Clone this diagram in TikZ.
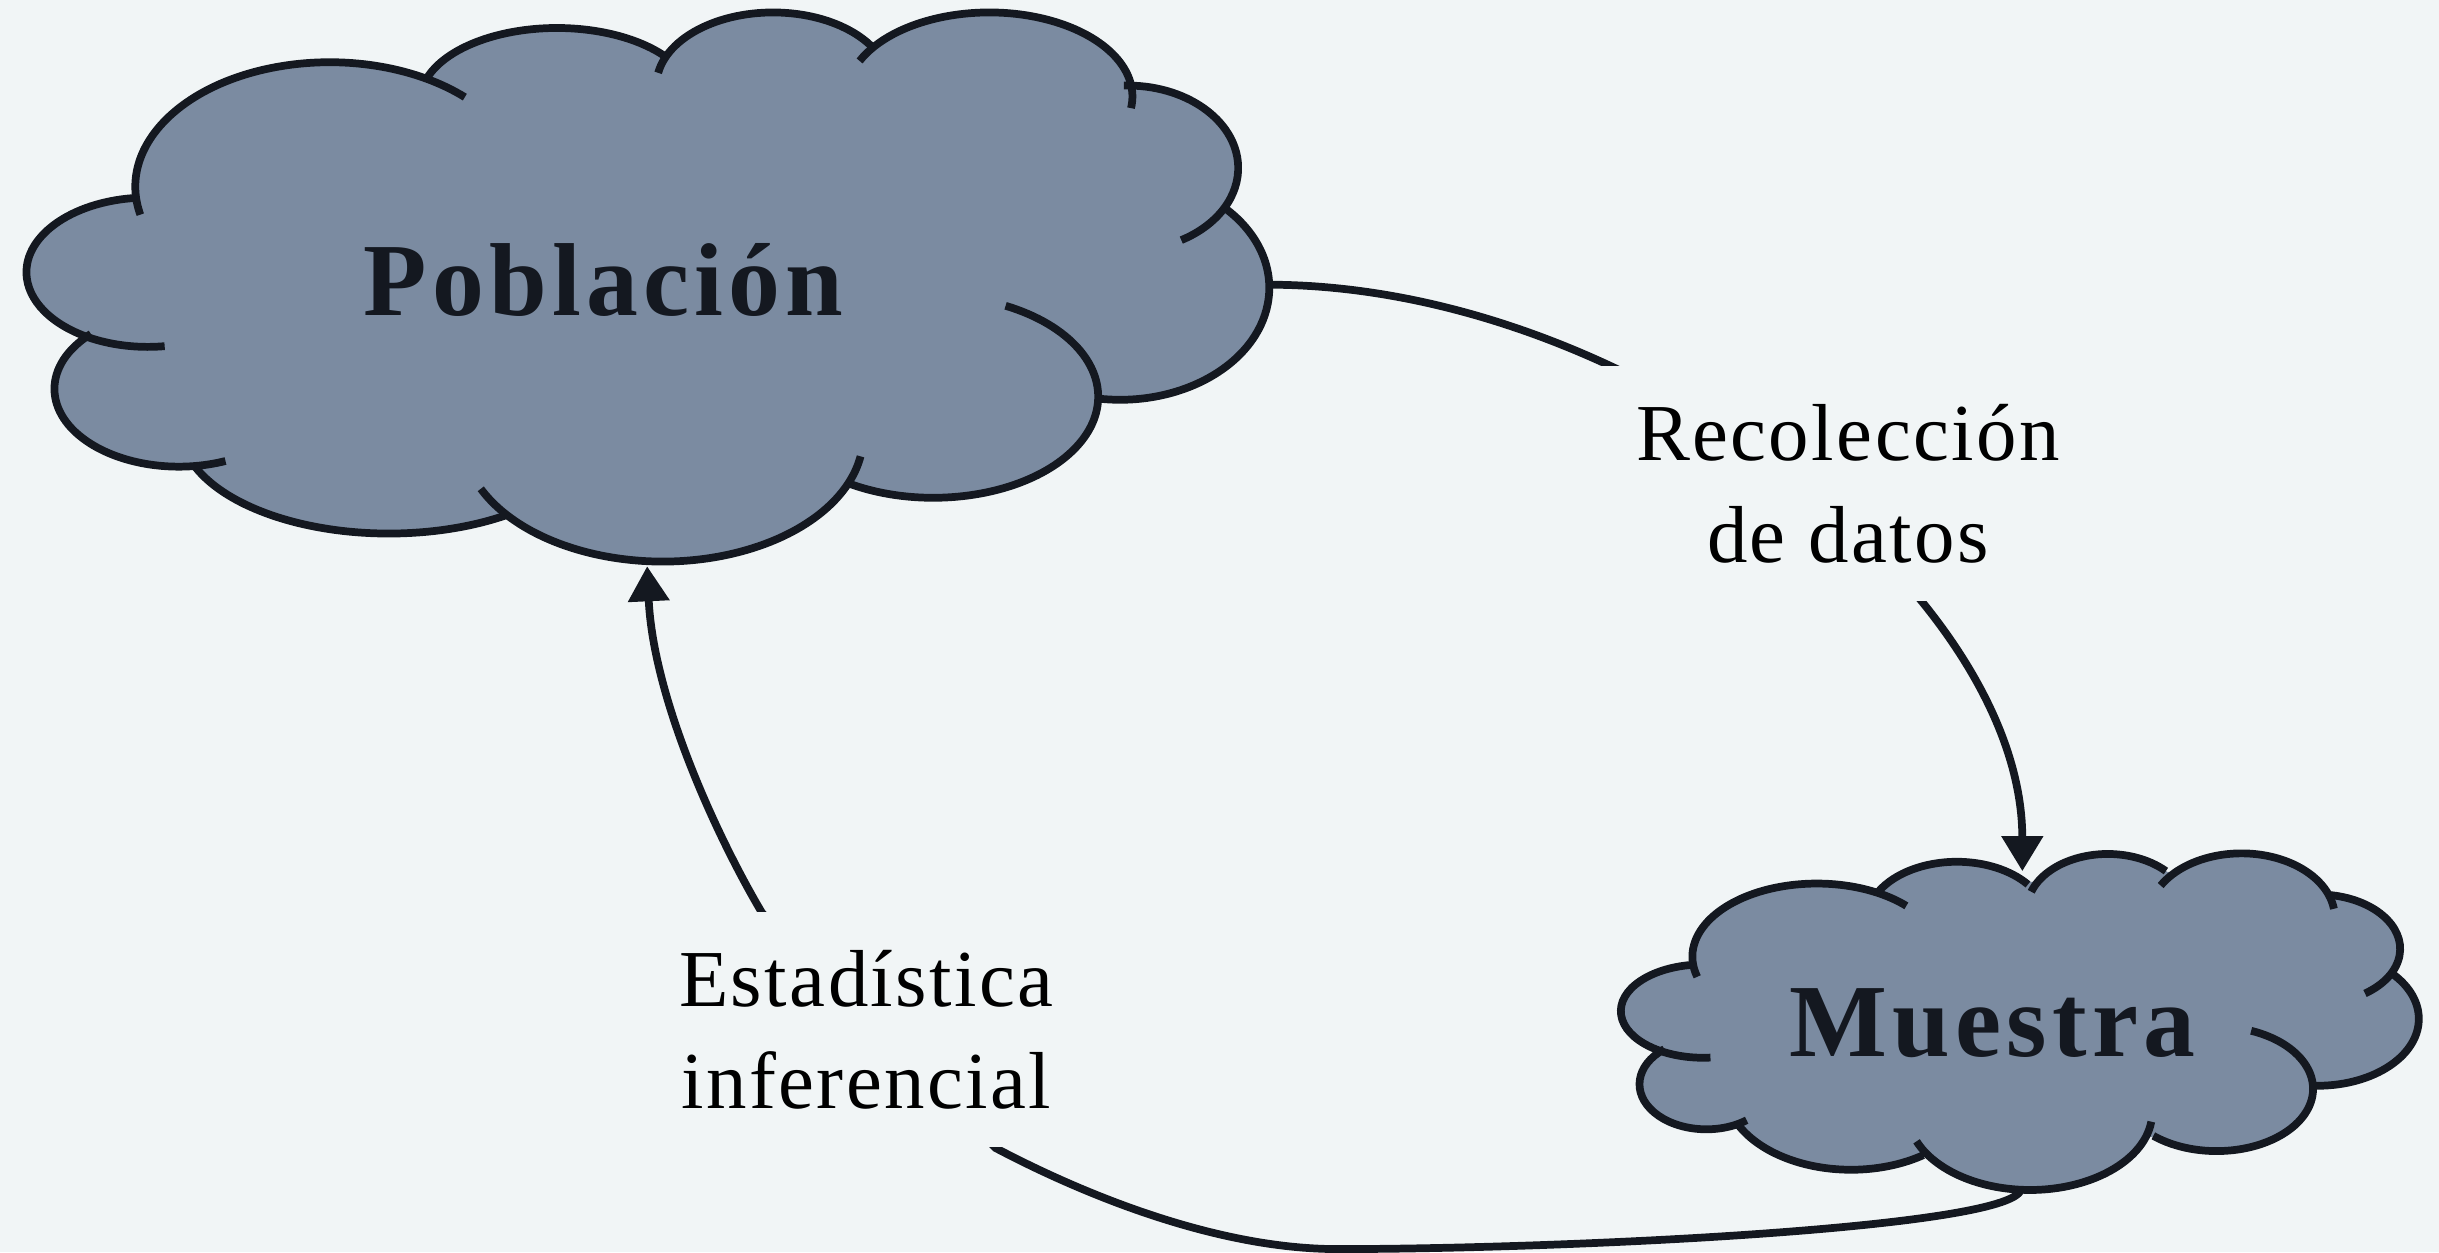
\documentclass[tikz,border=0pt]{standalone}
\usepackage{fontspec}
\setmainfont{Liberation Serif}
\newfontfamily\labelfont[LetterSpace=3]{Liberation Serif}
\newfontfamily\cloudfont[LetterSpace=5]{Liberation Serif}
\usetikzlibrary{arrows.meta}

\definecolor{bgcol}{HTML}{F1F5F6}
\definecolor{cloudfill}{HTML}{7B8BA1}
\definecolor{inkcol}{HTML}{141820}

\tikzset{
  cloudline/.style={draw=inkcol, line width=2.2pt},
  cloudtext/.style={text=inkcol, anchor=base, font=\cloudfont\bfseries\fontsize{29.5}{34}\selectfont},
  edgelabel/.style={fill=bgcol, align=center, inner sep=0pt, minimum height=2.35cm,
    font=\labelfont\fontsize{23}{28.8}\selectfont},
  link/.style={draw=inkcol, line width=2.2pt, -{Triangle[width=4mm,length=3.5mm]}},
}

% bumps: centre x / centre y / x radius / y radius / start / end
\def\pobbumps{0.95/1.75/0.78/0.48/265/82, 2.12/1.20/1.25/0.80/167/314,
  3.58/0.65/0.88/0.47/198/322, 4.97/0.55/0.75/0.47/190/330,
  6.36/0.62/0.92/0.54/205/368, 7.25/1.08/0.71/0.53/268/421,
  7.20/1.85/0.96/0.72/98/-45, 6.00/2.55/1.06/0.65/122/-64,
  4.26/2.80/1.29/0.81/155/9.5, 2.50/2.75/1.34/0.68/158/55,
  1.15/2.50/0.80/0.50/225/68}
\def\muebumps{10.95/6.50/0.53/0.30/265/85, 11.68/6.15/0.80/0.47/164/316,
  12.58/5.92/0.58/0.38/210/322, 13.55/5.85/0.52/0.36/199/316,
  14.41/5.90/0.60/0.414/210/352, 14.90/6.10/0.53/0.35/277/415,
  14.90/6.55/0.65/0.43/-43/92, 14.25/7.00/0.62/0.40/-69/131,
  13.05/7.15/0.786/0.50/7/158, 11.90/7.00/0.81/0.52/55/155,
  10.97/6.97/0.43/0.29/231/53}

\begin{document}
\begin{tikzpicture}[scale=1.5555, yscale=-1]
    \path[use as bounding box, fill=bgcol] (0,0) rectangle (15.68,8.05);

    % Poblacion cloud
    \fill[cloudfill] (0.88,1.27) -- (2.76,0.50) -- (4.30,0.35) -- (5.65,0.28) -- (7.25,0.55)
      -- (7.89,1.34) -- (7.06,2.56) -- (5.45,3.08) -- (3.22,3.28) -- (1.25,2.97) -- (0.58,2.15) -- cycle;
    \foreach \cx/\cy/\rx/\ry/\sa/\ea in \pobbumps
      \fill[cloudfill] (\cx,\cy) ellipse[x radius=\rx, y radius=\ry];
    \foreach \cx/\cy/\rx/\ry/\sa/\ea in \pobbumps
      \draw[cloudline] (\cx,\cy) ++({\rx*cos(\sa)},{\ry*sin(\sa)}) arc[start angle=\sa, end angle=\ea, x radius=\rx, y radius=\ry];

    % Muestra cloud
    \fill[cloudfill] (10.90,6.20) -- (12.09,5.73) -- (13.05,5.67) -- (13.90,5.60) -- (14.96,5.75)
      -- (15.37,6.26) -- (14.88,6.98) -- (13.83,7.31) -- (12.35,7.42) -- (11.13,7.23) -- (10.70,6.74) -- cycle;
    \foreach \cx/\cy/\rx/\ry/\sa/\ea in \muebumps
      \fill[cloudfill] (\cx,\cy) ellipse[x radius=\rx, y radius=\ry];
    \foreach \cx/\cy/\rx/\ry/\sa/\ea in \muebumps
      \draw[cloudline] (\cx,\cy) ++({\rx*cos(\sa)},{\ry*sin(\sa)}) arc[start angle=\sa, end angle=\ea, x radius=\rx, y radius=\ry];

    \node[cloudtext] (pob) at (3.88,2.03) {Población};
    \node[cloudtext] (mue) at (12.81,6.79) {Muestra};

    \coordinate (pobE) at (8.15,1.83);
    \coordinate (pobS) at (4.16,3.64);
    \coordinate (mueN) at (13.00,5.60);
    \coordinate (mueS) at (12.99,7.65);

    \draw[link] (pobE) .. controls (10.50,1.83) and (13.00,3.80) .. (mueN);
    \draw[link] (mueS) .. controls (12.90,7.90) and (10.00,8.03) .. (8.60,8.03)
      .. controls (7.80,8.03) and (6.93,7.66) .. (6.40,7.38) -- (4.90,5.87)
      .. controls (4.62,5.40) and (4.20,4.50) .. (pobS);

    \node[edgelabel, minimum width=5.55cm] (recol) at (11.88,3.11) {Recolección\\de datos};
    \node[edgelabel, minimum width=5.3cm] (infer) at (5.57,6.62) {Estadística\\inferencial};
\end{tikzpicture}
\end{document}
